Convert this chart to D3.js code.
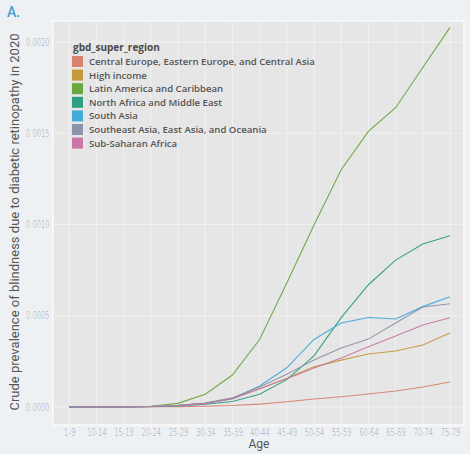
<!DOCTYPE html>
<html><head><meta charset="utf-8">
<script src="https://cdn.jsdelivr.net/npm/d3@7"></script>
<style>
html,body{margin:0;padding:0;background:#eef1f4;}
svg{display:block;}
</style></head>
<body>
<script>
const ages = ["1-9","10-14","15-19","20-24","25-29","30-34","35-39","40-44","45-49","50-54","55-59","60-64","65-69","70-74","75-79"];
const regions = ["Central Europe, Eastern Europe, and Central Asia","High income","Latin America and Caribbean","North Africa and Middle East","South Asia","Southeast Asia, East Asia, and Oceania","Sub-Saharan Africa"];
const colors = ["#d7826e","#c49a3c","#6aa840","#2d9e80","#44aad8","#8a94aa","#c877a6"];
const centralEurope = [0,0,0,0.000001,0.000002,0.000004,0.000008,0.000016,0.000029,0.000044,0.000056,0.000071,0.000088,0.00011,0.000137];
const highIncome   = [0,0,0,0.000003,0.000008,0.00002,0.000045,0.0001,0.000157,0.00022,0.000257,0.00029,0.000307,0.00034,0.000405];
const latinAmerica = [0,0,0.000001,0.000004,0.00002,0.00007,0.000175,0.00037,0.00068,0.000997,0.0013,0.00151,0.00164,0.00186,0.00208];
const northAfrica  = [0,0,0,0.000002,0.000006,0.000015,0.00003,0.00007,0.00015,0.00028,0.00049,0.00067,0.000805,0.000893,0.000938];
const southAsia    = [0,0,0,0.000003,0.000008,0.00002,0.000045,0.000115,0.000215,0.00037,0.00046,0.00049,0.000482,0.00055,0.000604];
const seAsia       = [0,0,0,0.000003,0.000009,0.000022,0.00005,0.00011,0.00018,0.000257,0.000323,0.000372,0.00046,0.000548,0.000566];
const subSaharan   = [0,0,0,0.000003,0.000008,0.00002,0.000045,0.0001,0.000155,0.000214,0.000268,0.00033,0.000389,0.000449,0.000489];
const seriesValues = [centralEurope, highIncome, latinAmerica, northAfrica, southAsia, seAsia, subSaharan];
const yTicks = [0, 0.0005, 0.0010, 0.0015, 0.0020];
const yTickLabels = ["0.0000","0.0005","0.0010","0.0015","0.0020"];

const W = 470, H = 454;
const P = {l:53, r:464, t:21, b:425};
const svg = d3.select("body").append("svg").attr("width", W).attr("height", H);

const x = d3.scalePoint().domain(ages).range([69.2, 450]);
const y = d3.scaleLinear().domain([0, 0.002]).range([407, 42]);

svg.append("rect").attr("x", P.l).attr("y", P.t).attr("width", P.r - P.l).attr("height", P.b - P.t)
  .attr("fill", "#e6e6e6").attr("stroke", "#fafafa").attr("stroke-width", 1.5);

const g = svg.append("g");
const minor = d3.range(0.00025, 0.0021, 0.0005);
g.selectAll(".mh").data(minor).join("line")
  .attr("x1", P.l).attr("x2", P.r).attr("y1", d => y(d)).attr("y2", d => y(d))
  .attr("stroke", "#ececec").attr("stroke-width", 0.5);
g.selectAll(".h").data(yTicks).join("line")
  .attr("x1", P.l).attr("x2", P.r).attr("y1", d => y(d)).attr("y2", d => y(d))
  .attr("stroke", "#f1f1f1").attr("stroke-width", 1);
g.selectAll(".v").data(ages).join("line")
  .attr("y1", P.t).attr("y2", P.b).attr("x1", d => x(d)).attr("x2", d => x(d))
  .attr("stroke", "#f1f1f1").attr("stroke-width", 1);

const line = d3.line().x((d, i) => x(ages[i])).y(d => y(d));
seriesValues.forEach((vals, k) => {
  svg.append("path").datum(vals).attr("d", line)
    .attr("fill", "none").attr("stroke", colors[k]).attr("stroke-width", 1.1).attr("stroke-opacity", 0.95);
});

// axes (condensed tick labels)
const tickFont = "'DejaVu Sans', sans-serif";
function condense(sel) {
  sel.attr("fill", "#9aa0a8").style("font-family", tickFont).style("font-size", "10px")
     .style("font-stretch", "condensed").style("font-weight", "300");
  sel.each(function() {
    const n = d3.select(this).text().length;
    d3.select(this).attr("textLength", n * 3.9).attr("lengthAdjust", "spacingAndGlyphs");
  });
}
const yAxis = d3.axisLeft(y).tickValues(yTicks).tickFormat((d, i) => yTickLabels[i]).tickSize(0).tickPadding(3);
const ya = svg.append("g").attr("transform", `translate(${P.l - 0.5},0)`).call(yAxis);
ya.select(".domain").remove();
ya.selectAll("text").call(condense);

const xAxis = d3.axisBottom(x).tickSize(0).tickPadding(3);
const xa = svg.append("g").attr("transform", `translate(0,${P.b + 0.5})`).call(xAxis);
xa.select(".domain").remove();
xa.selectAll("text").call(condense);

// titles
svg.append("text").attr("x", 7).attr("y", 17).text("A.")
  .attr("fill", "#3d9fd3").style("font-family", "Roboto, sans-serif").style("font-size", "14px").style("font-weight", "500");
svg.append("text").attr("x", 259).attr("y", 448).attr("text-anchor", "middle").text("Age")
  .attr("fill", "#555").style("font-family", "Roboto, sans-serif").style("font-size", "12px");
svg.append("text").attr("transform", `translate(19,${(P.t + P.b) / 2 - 1}) rotate(-90)`).attr("text-anchor", "middle")
  .text("Crude prevalence of blindness due to diabetic retinopathy in 2020")
  .attr("fill", "#555").style("font-family", "Roboto, sans-serif").style("font-size", "13px");

// legend
const lg = svg.append("g").attr("transform", "translate(72,48)");
lg.append("text").attr("x", 1).attr("y", 3).text("gbd_super_region")
  .attr("fill", "#4a4a4a").style("font-family", "'Open Sans', sans-serif").style("font-size", "10px").style("font-weight", "700");
const items = lg.selectAll(".it").data(regions).join("g").attr("transform", (d, i) => `translate(0,${8 + i * 13.6})`);
items.append("rect").attr("width", 11).attr("height", 11).attr("fill", (d, i) => colors[i]);
items.append("text").attr("x", 17).attr("y", 9).text(d => d)
  .attr("fill", "#555").style("font-family", "'Open Sans', sans-serif").style("font-size", "9.6px").style("font-weight", "600");
</script>
</body></html>
